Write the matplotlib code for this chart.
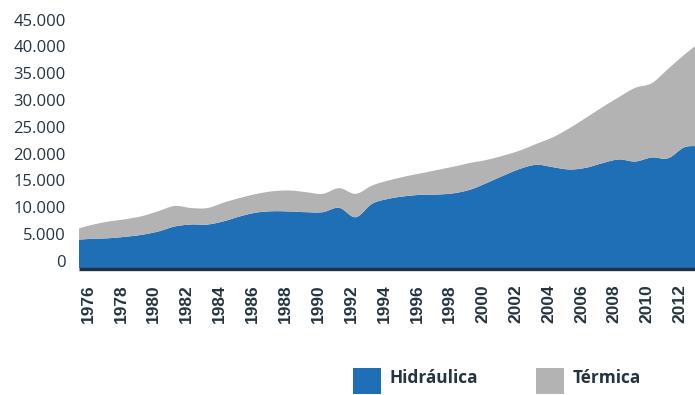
import numpy as np
import matplotlib
matplotlib.use("Agg")
import matplotlib.pyplot as plt
from matplotlib.ticker import FuncFormatter, FixedLocator
from matplotlib.transforms import ScaledTranslation
from matplotlib.patches import Rectangle

# Annual generation by source (stacked)
years = list(range(1975, 2014))
hidraulica = [5270, 5450, 5560, 5830, 6200, 6820, 7750, 8120, 8120, 8740,
              9670, 10360, 10600, 10550, 10420, 10420, 11240, 9480, 11990, 12920,
              13400, 13670, 13720, 13970, 14660, 15910, 17270, 18520, 19270, 18820,
              18390, 18710, 19570, 20260, 19880, 20630, 20500, 22550, 22740]
termica = [1970, 2620, 3120, 3280, 3470, 3780, 3830, 3080, 3080, 3490,
           3440, 3490, 3740, 3920, 3730, 3430, 3660, 4370, 3410, 3420,
           3680, 4030, 4610, 4980, 4980, 4290, 3730, 3420, 3920, 5600,
           7710, 9330, 10450, 11630, 13760, 13870, 16690, 17310, 19550]
year_labels = [str(y) for y in range(1976, 2013, 2)]
y_ticks = list(range(0, 45001, 5000))
series_names = ["Hidráulica", "Térmica"]

BLUE = "#1f6fb6"
GREY = "#b3b3b3"
TEXT = "#26343f"
AXIS = "#1f3340"


def smooth(x, y, n=20):
    """Cubic Hermite (Catmull-Rom) curve through the points."""
    x = np.asarray(x, float)
    y = np.asarray(y, float)
    m = np.empty_like(y)
    m[1:-1] = (y[2:] - y[:-2]) / (x[2:] - x[:-2])
    m[0] = (y[1] - y[0]) / (x[1] - x[0])
    m[-1] = (y[-1] - y[-2]) / (x[-1] - x[-2])
    xs, ys = [], []
    for i in range(len(x) - 1):
        h = x[i + 1] - x[i]
        t = np.linspace(0, 1, n, endpoint=False)
        h00 = 2 * t**3 - 3 * t**2 + 1
        h10 = t**3 - 2 * t**2 + t
        h01 = -2 * t**3 + 3 * t**2
        h11 = t**3 - t**2
        xs.append(x[i] + t * h)
        ys.append(h00 * y[i] + h10 * h * m[i] + h01 * y[i + 1] + h11 * h * m[i + 1])
    xs.append([x[-1]])
    ys.append([y[-1]])
    return np.concatenate(xs), np.concatenate(ys)


total = np.array(hidraulica) + np.array(termica)
xs, hyd_s = smooth(years, hidraulica)
_, tot_s = smooth(years, total)

fig = plt.figure(figsize=(6.95, 3.95), dpi=100)
ax = fig.add_axes([79 / 695, 1 - 267.5 / 395, 616 / 695, 246.4 / 395])

ax.fill_between(xs, 0, hyd_s, color=BLUE, linewidth=0)
ax.fill_between(xs, hyd_s, tot_s, color=GREY, linewidth=0)

ax.set_xlim(1975.21, 2012.66)
ax.set_ylim(0, 46000)

for side in ("top", "right", "left"):
    ax.spines[side].set_visible(False)
ax.spines["bottom"].set_color(AXIS)
ax.spines["bottom"].set_linewidth(2.4)
ax.spines["bottom"].set_position(("outward", 1.2))
ax.spines["bottom"].set_capstyle("butt")

ax.yaxis.set_major_locator(FixedLocator(y_ticks))
ax.yaxis.set_major_formatter(FuncFormatter(lambda v, p: f"{int(v):,}".replace(",", ".")))
ax.tick_params(axis="y", length=0, pad=9.5, labelsize=12, labelcolor=TEXT)
for lab in ax.get_yticklabels():
    lab.set_fontfamily("Open Sans")
    lab.set_transform(lab.get_transform() + ScaledTranslation(0, 0.068, fig.dpi_scale_trans))

ax.set_xticks([int(s) for s in year_labels])
ax.set_xticklabels(year_labels, rotation=90, fontfamily="Liberation Sans",
                   fontweight="bold", fontsize=12.5, color=TEXT)
ax.tick_params(axis="x", length=0, pad=11)
for lab in ax.get_xticklabels():
    lab.set_transform(lab.get_transform() + ScaledTranslation(-0.04, 0, fig.dpi_scale_trans))

# Legend
W, H = 695, 395
for (x0, name, col) in [(353, series_names[0], BLUE), (536, series_names[1], GREY)]:
    fig.add_artist(Rectangle((x0 / W, 1 - 394.3 / H), 27.5 / W, 26 / H,
                             transform=fig.transFigure, facecolor=col, edgecolor="none"))
    fig.text((x0 + 37) / W, 1 - 378 / H, name, fontfamily="Open Sans", fontweight="bold",
             fontsize=12.4, color=TEXT, va="center", ha="left")

fig.savefig("out.png", dpi=100)
